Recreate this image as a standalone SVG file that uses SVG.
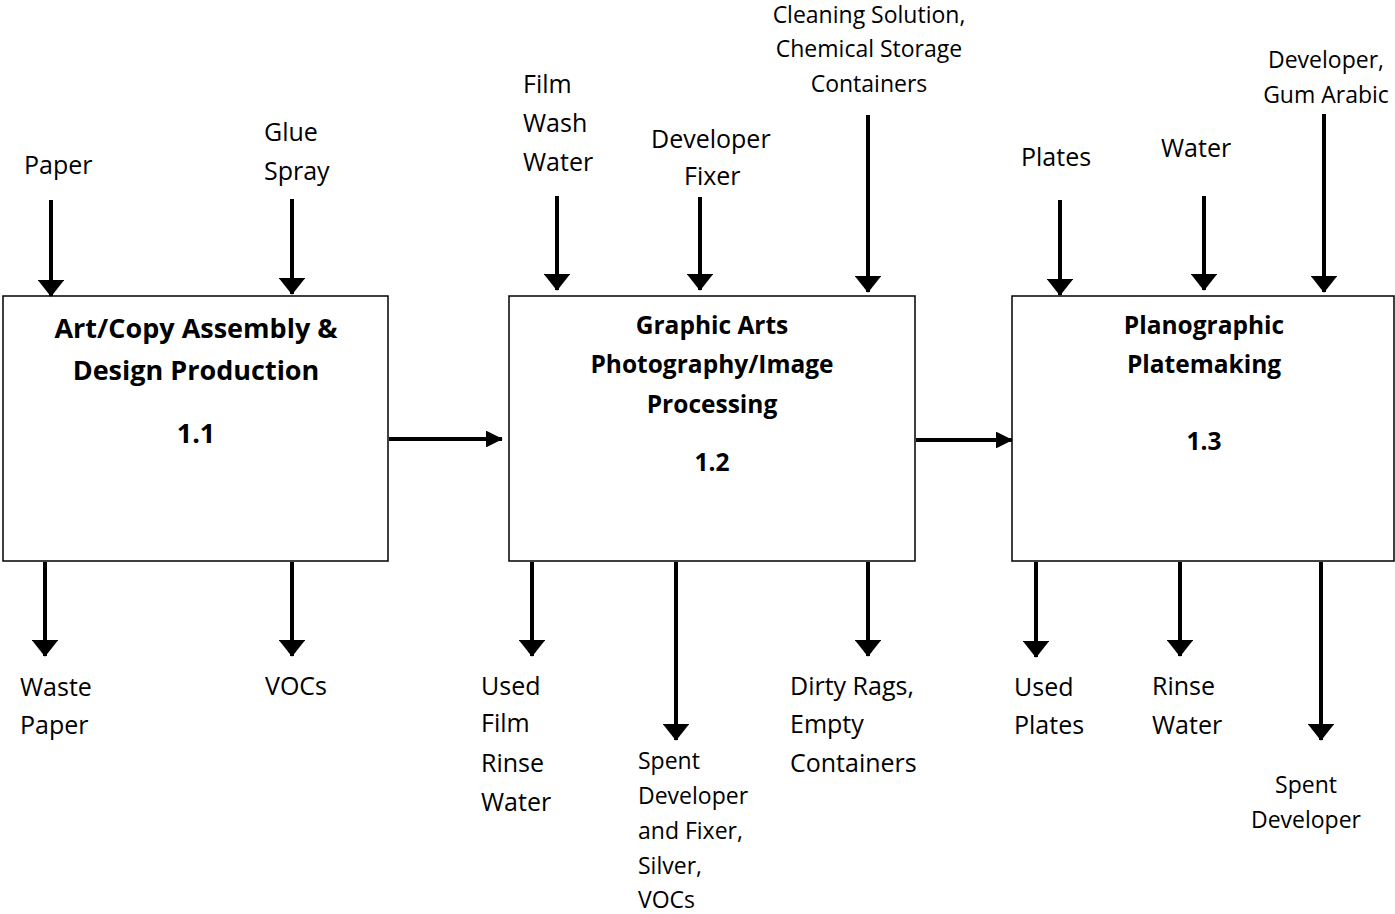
<svg xmlns="http://www.w3.org/2000/svg" width="1395" height="914" viewBox="0 0 1395 914">
<defs>
<marker id="ah" markerWidth="4.2" markerHeight="6.6" refX="4" refY="3.3" orient="auto" markerUnits="strokeWidth">
<path d="M0,0 L4.2,3.3 L0,6.6 Z" fill="#000"/>
</marker>
<marker id="ahs" markerWidth="4.2" markerHeight="4.2" refX="4" refY="2.1" orient="auto" markerUnits="strokeWidth">
<path d="M0,0 L4.2,2.1 L0,4.2 Z" fill="#000"/>
</marker>
</defs>
<style>
.box{fill:#fff;stroke:#000;stroke-width:1.5}
.t{font-family:"Open Sans",Lato,"Liberation Sans",sans-serif;font-size:25px;fill:#000}
.s{font-size:23px}
.b{font-weight:bold;text-anchor:middle;font-size:24.5px}
.b1{font-size:27px}
.c{stroke:#000;stroke-width:4;fill:none;marker-end:url(#ah)}
.h{stroke:#000;stroke-width:4;fill:none;marker-end:url(#ahs)}
</style>
<rect width="1395" height="914" fill="#fff"/>
<g id="n1">
<rect class="box" x="3" y="296" width="385" height="265"/>
<text class="t b b1" x="196" y="338">Art/Copy Assembly &amp;</text>
<text class="t b b1" x="196" y="380">Design Production</text>
<text class="t b b1" x="196" y="443">1.1</text>
</g>
<g id="n2">
<rect class="box" x="509" y="296" width="406" height="265"/>
<text class="t b" x="712" y="334">Graphic Arts</text>
<text class="t b" x="712" y="373">Photography/Image</text>
<text class="t b" x="712" y="413">Processing</text>
<text class="t b" x="712" y="471">1.2</text>
</g>
<g id="n3">
<rect class="box" x="1012" y="296" width="382" height="265"/>
<text class="t b" x="1204" y="334">Planographic</text>
<text class="t b" x="1204" y="373">Platemaking</text>
<text class="t b" x="1204" y="450">1.3</text>
</g>
<g id="labels">
<text class="t" x="24" y="174">Paper</text>
<text class="t" x="264" y="141">Glue</text>
<text class="t" x="264" y="180">Spray</text>
<text class="t" x="523" y="93">Film</text>
<text class="t" x="523" y="132">Wash</text>
<text class="t" x="523" y="171">Water</text>
<text class="t" x="651" y="148">Developer</text>
<text class="t" x="684" y="185">Fixer</text>
<text class="t s" x="869" y="23" text-anchor="middle">Cleaning Solution,</text>
<text class="t s" x="869" y="57" text-anchor="middle">Chemical Storage</text>
<text class="t s" x="869" y="92" text-anchor="middle">Containers</text>
<text class="t" x="1021" y="166">Plates</text>
<text class="t" x="1161" y="157">Water</text>
<text class="t s" x="1326" y="68" text-anchor="middle">Developer,</text>
<text class="t s" x="1326" y="103" text-anchor="middle">Gum Arabic</text>
<text class="t" x="20" y="696">Waste</text>
<text class="t" x="20" y="734">Paper</text>
<text class="t" x="265" y="695">VOCs</text>
<text class="t" x="481" y="695">Used</text>
<text class="t" x="481" y="732">Film</text>
<text class="t" x="481" y="772">Rinse</text>
<text class="t" x="481" y="811">Water</text>
<text class="t s" x="638" y="769">Spent</text>
<text class="t s" x="638" y="804">Developer</text>
<text class="t s" x="638" y="839">and Fixer,</text>
<text class="t s" x="638" y="874">Silver,</text>
<text class="t s" x="638" y="908">VOCs</text>
<text class="t" x="790" y="695">Dirty Rags,</text>
<text class="t" x="790" y="733">Empty</text>
<text class="t" x="790" y="772">Containers</text>
<text class="t" x="1014" y="696">Used</text>
<text class="t" x="1014" y="734">Plates</text>
<text class="t" x="1152" y="695">Rinse</text>
<text class="t" x="1152" y="734">Water</text>
<text class="t s" x="1306" y="793" text-anchor="middle">Spent</text>
<text class="t s" x="1306" y="828" text-anchor="middle">Developer</text>
</g>
<g id="connectors">
<line class="c" x1="51" y1="200" x2="51" y2="296"/>
<line class="c" x1="292" y1="199" x2="292" y2="294"/>
<line class="c" x1="557" y1="196" x2="557" y2="290"/>
<line class="c" x1="700" y1="197" x2="700" y2="290"/>
<line class="c" x1="868" y1="115" x2="868" y2="292"/>
<line class="c" x1="1060" y1="200" x2="1060" y2="295"/>
<line class="c" x1="1204" y1="196" x2="1204" y2="290"/>
<line class="c" x1="1324" y1="114" x2="1324" y2="292"/>
<line class="h" x1="389" y1="439" x2="502" y2="439"/>
<line class="h" x1="916" y1="440" x2="1012" y2="440"/>
<line class="c" x1="45" y1="562" x2="45" y2="656"/>
<line class="c" x1="292" y1="562" x2="292" y2="656"/>
<line class="c" x1="532" y1="562" x2="532" y2="656"/>
<line class="c" x1="676" y1="562" x2="676" y2="740"/>
<line class="c" x1="868" y1="562" x2="868" y2="656"/>
<line class="c" x1="1036" y1="562" x2="1036" y2="657"/>
<line class="c" x1="1180" y1="562" x2="1180" y2="656"/>
<line class="c" x1="1321" y1="562" x2="1321" y2="740"/>
</g>
</svg>
